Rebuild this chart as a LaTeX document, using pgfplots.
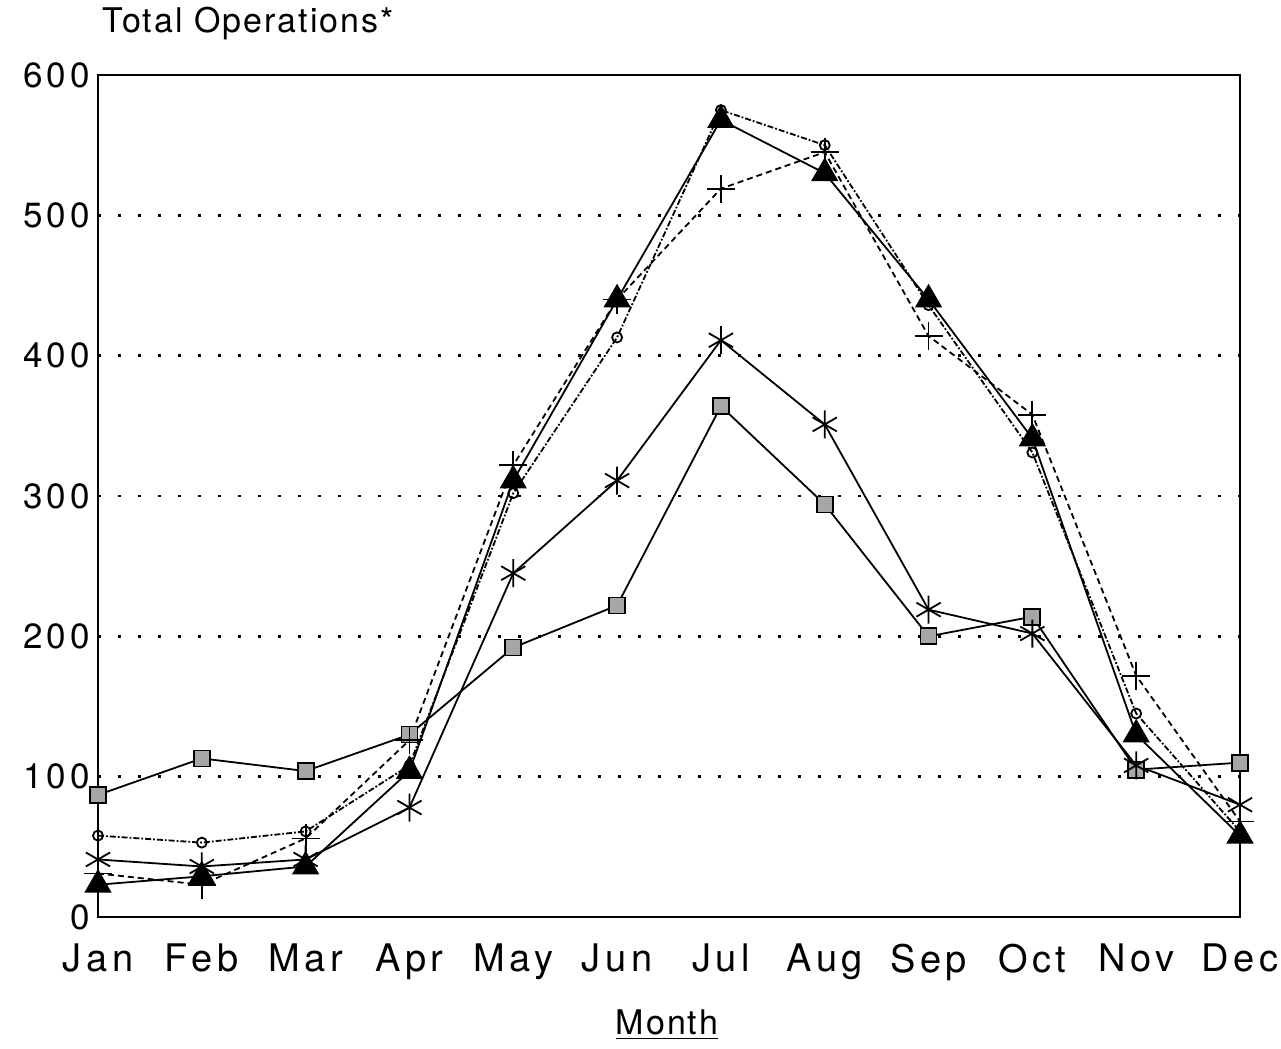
\documentclass[border=0pt]{standalone}
\usepackage{pgfplots}
\pgfplotsset{compat=1.18}
\usepackage{fontspec}
\setmainfont{TeX Gyre Heros}
\newfontfamily\tickfont[LetterSpace=12]{TeX Gyre Heros}
\newfontfamily\labfont[LetterSpace=6]{TeX Gyre Heros}
\begin{document}
\begin{tikzpicture}
\useasboundingbox (0,0) rectangle (640.5pt,524.5pt);
\begin{axis}[
  at={(49pt,66pt)}, anchor=south west,
  width=571pt, height=421pt, scale only axis,
  xmin=0, xmax=11, ymin=0, ymax=600,
  xtick={0,...,11},
  xticklabels={Jan,Feb,Mar,Apr,May,Jun,Jul,Aug,Sep,Oct,Nov,Dec},
  ytick={0,100,...,600},
  major tick length=0pt,
  ymajorgrids, grid style={black, line width=1.3pt, dash pattern=on 1.3pt off 8.7pt},
  axis line style={line width=1pt},
  /pgf/number format/assume math mode=true,
  yticklabel style={font=\tickfont\fontsize{17.5}{20}\selectfont, xshift=-0.5pt},
  xticklabel style={font=\tickfont\fontsize{19}{22}\selectfont, yshift=-10pt},
  clip=false,
  every axis plot/.append style={line width=0.9pt, black},
]
% squares
\addplot[mark=square*, mark size=4pt, mark options={solid, fill=gray!70, draw=black}] coordinates {
(0,87)(1,113)(2,104)(3,130)(4,192)(5,222)(6,364)(7,294)(8,200)(9,214)(10,105)(11,110)};
% asterisks
\addplot[mark=asterisk, mark size=7pt, mark options={solid, line width=0.9pt}] coordinates {
(0,41)(1,36)(2,41)(3,78)(4,245)(5,311)(6,411)(7,351)(8,219)(9,202)(10,108)(11,80)};
% circles
\addplot[densely dashdotted, mark=o, mark size=2.5pt, mark options={solid, fill=white}] coordinates {
(0,58)(1,53)(2,61)(3,108)(4,302)(5,413)(6,575)(7,550)(8,436)(9,331)(10,145)(11,61)};
% plus
\addplot[densely dashed, mark=+, mark size=7pt, mark options={solid, line width=0.9pt}] coordinates {
(0,31)(1,23)(2,56)(3,126)(4,322)(5,440)(6,519)(7,545)(8,414)(9,358)(10,172)(11,68)};
% triangles
\addplot[mark=triangle*, mark size=7pt, mark options={solid, fill=black}] coordinates {
(0,23)(1,29)(2,36)(3,104)(4,311)(5,440)(6,568)(7,530)(8,440)(9,341)(10,130)(11,58)};
\node[anchor=base west, font=\labfont\fontsize{17}{20}\selectfont, inner sep=0pt] at (rel axis cs:0,1) [yshift=21pt, xshift=2pt] {Total Operations*};
\node[anchor=base, font=\labfont\fontsize{17}{20}\selectfont, inner sep=0pt] at (rel axis cs:0.5,0) [yshift=-59pt, xshift=-1pt] {\underline{Month}};
\end{axis}
\end{tikzpicture}
\end{document}
